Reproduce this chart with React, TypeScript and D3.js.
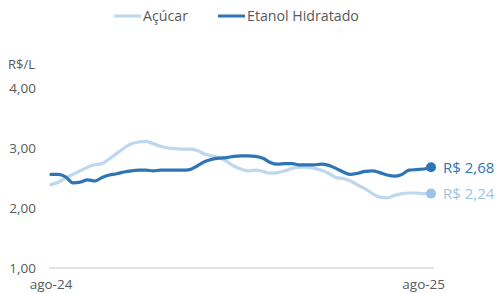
import React from "react";
import * as d3 from "d3";

// weekly prices, ago-24 .. ago-25 (R$/L)
const acucar = [
  2.39, 2.43, 2.5, 2.56, 2.62, 2.68, 2.72, 2.74, 2.82, 2.91, 3.0, 3.07, 3.1,
  3.11, 3.07, 3.03, 3.0, 2.99, 2.98, 2.98, 2.96, 2.9, 2.87, 2.84, 2.78, 2.7,
  2.65, 2.62, 2.63, 2.61, 2.58, 2.59, 2.62, 2.66, 2.68, 2.68, 2.66, 2.63, 2.58,
  2.51, 2.49, 2.45, 2.38, 2.32, 2.24, 2.18, 2.17, 2.21, 2.24, 2.25, 2.25, 2.24,
  2.24,
];
const etanol = [
  2.56, 2.56, 2.52, 2.42, 2.43, 2.47, 2.45, 2.51, 2.55, 2.57, 2.6, 2.62, 2.63,
  2.63, 2.62, 2.63, 2.63, 2.63, 2.63, 2.64, 2.7, 2.77, 2.81, 2.83, 2.84, 2.86,
  2.87, 2.87, 2.86, 2.83, 2.76, 2.73, 2.74, 2.74, 2.72, 2.72, 2.72, 2.73, 2.71,
  2.66, 2.6, 2.56, 2.58, 2.61, 2.62, 2.59, 2.55, 2.53, 2.56, 2.63, 2.64, 2.65,
  2.68,
];
const xTickIdx = [0, 51];
const xTickLabels = ["ago-24", "ago-25"];
const yTicks = [1, 2, 3, 4];
const endLabels = ["R$ 2,24", "R$ 2,68"];

const FONT = "'Open Sans', 'Noto Sans', sans-serif";
const LIGHT = "#bdd7ee";
const LIGHT_DOT = "#9dc3e6";
const DARK = "#2e75b6";
const GREY = "#595959";

export default function App() {
  const width = 497;
  const height = 293;

  const x = d3.scaleLinear().domain([0, acucar.length - 1]).range([51, 431]);
  const y = d3.scaleLinear().domain([1, 4]).range([268, 88]);

  const line = d3
    .line<number>()
    .x((_, i) => x(i))
    .y((d) => y(d))
    .curve(d3.curveMonotoneX);

  const fmt = (v: number) => v.toFixed(2).replace(".", ",");
  const last = acucar.length - 1;

  const series = [
    { name: "Açúcar", data: acucar, color: LIGHT, dot: LIGHT_DOT, label: endLabels[0], lx: 114 },
    { name: "Etanol Hidratado", data: etanol, color: DARK, dot: DARK, label: endLabels[1], lx: 218 },
  ];

  return (
    <svg
      width={width}
      height={height}
      style={{ position: "absolute", left: 0, top: 0, fontFamily: FONT }}
    >
      {/* legend */}
      {series.map((s) => (
        <g key={s.name}>
          <line x1={s.lx} x2={s.lx + 27} y1={16} y2={16} stroke={s.color} strokeWidth={3} />
          <text x={s.lx + 29} y={21} fontSize={14.2} fill={GREY}>
            {s.name}
          </text>
        </g>
      ))}

      <text x={8} y={69} fontSize={13} fill={GREY}>
        R$/L
      </text>

      {yTicks.map((t) => (
        <text key={t} x={36} y={y(t) + 5} fontSize={13.5} fill={GREY} textAnchor="end">
          {fmt(t)}
        </text>
      ))}

      <line x1={49} x2={434} y1={y(1)} y2={y(1)} stroke="#d9d9d9" strokeWidth={1.5} />

      {xTickIdx.map((i, k) => (
        <text key={i} x={x(i)} y={289} fontSize={13.5} fill={GREY} textAnchor="middle">
          {xTickLabels[k]}
        </text>
      ))}

      {series.map((s) => (
        <g key={s.name + "-line"}>
          <path d={line(s.data) || ""} fill="none" stroke={s.color} strokeWidth={3.2} strokeLinejoin="round" strokeLinecap="round" />
          <circle cx={x(last)} cy={y(s.data[last])} r={5} fill={s.dot} />
          <text x={443} y={y(s.data[last]) + 5.5} fontSize={15} fill={s.dot}>
            {s.label}
          </text>
        </g>
      ))}
    </svg>
  );
}
